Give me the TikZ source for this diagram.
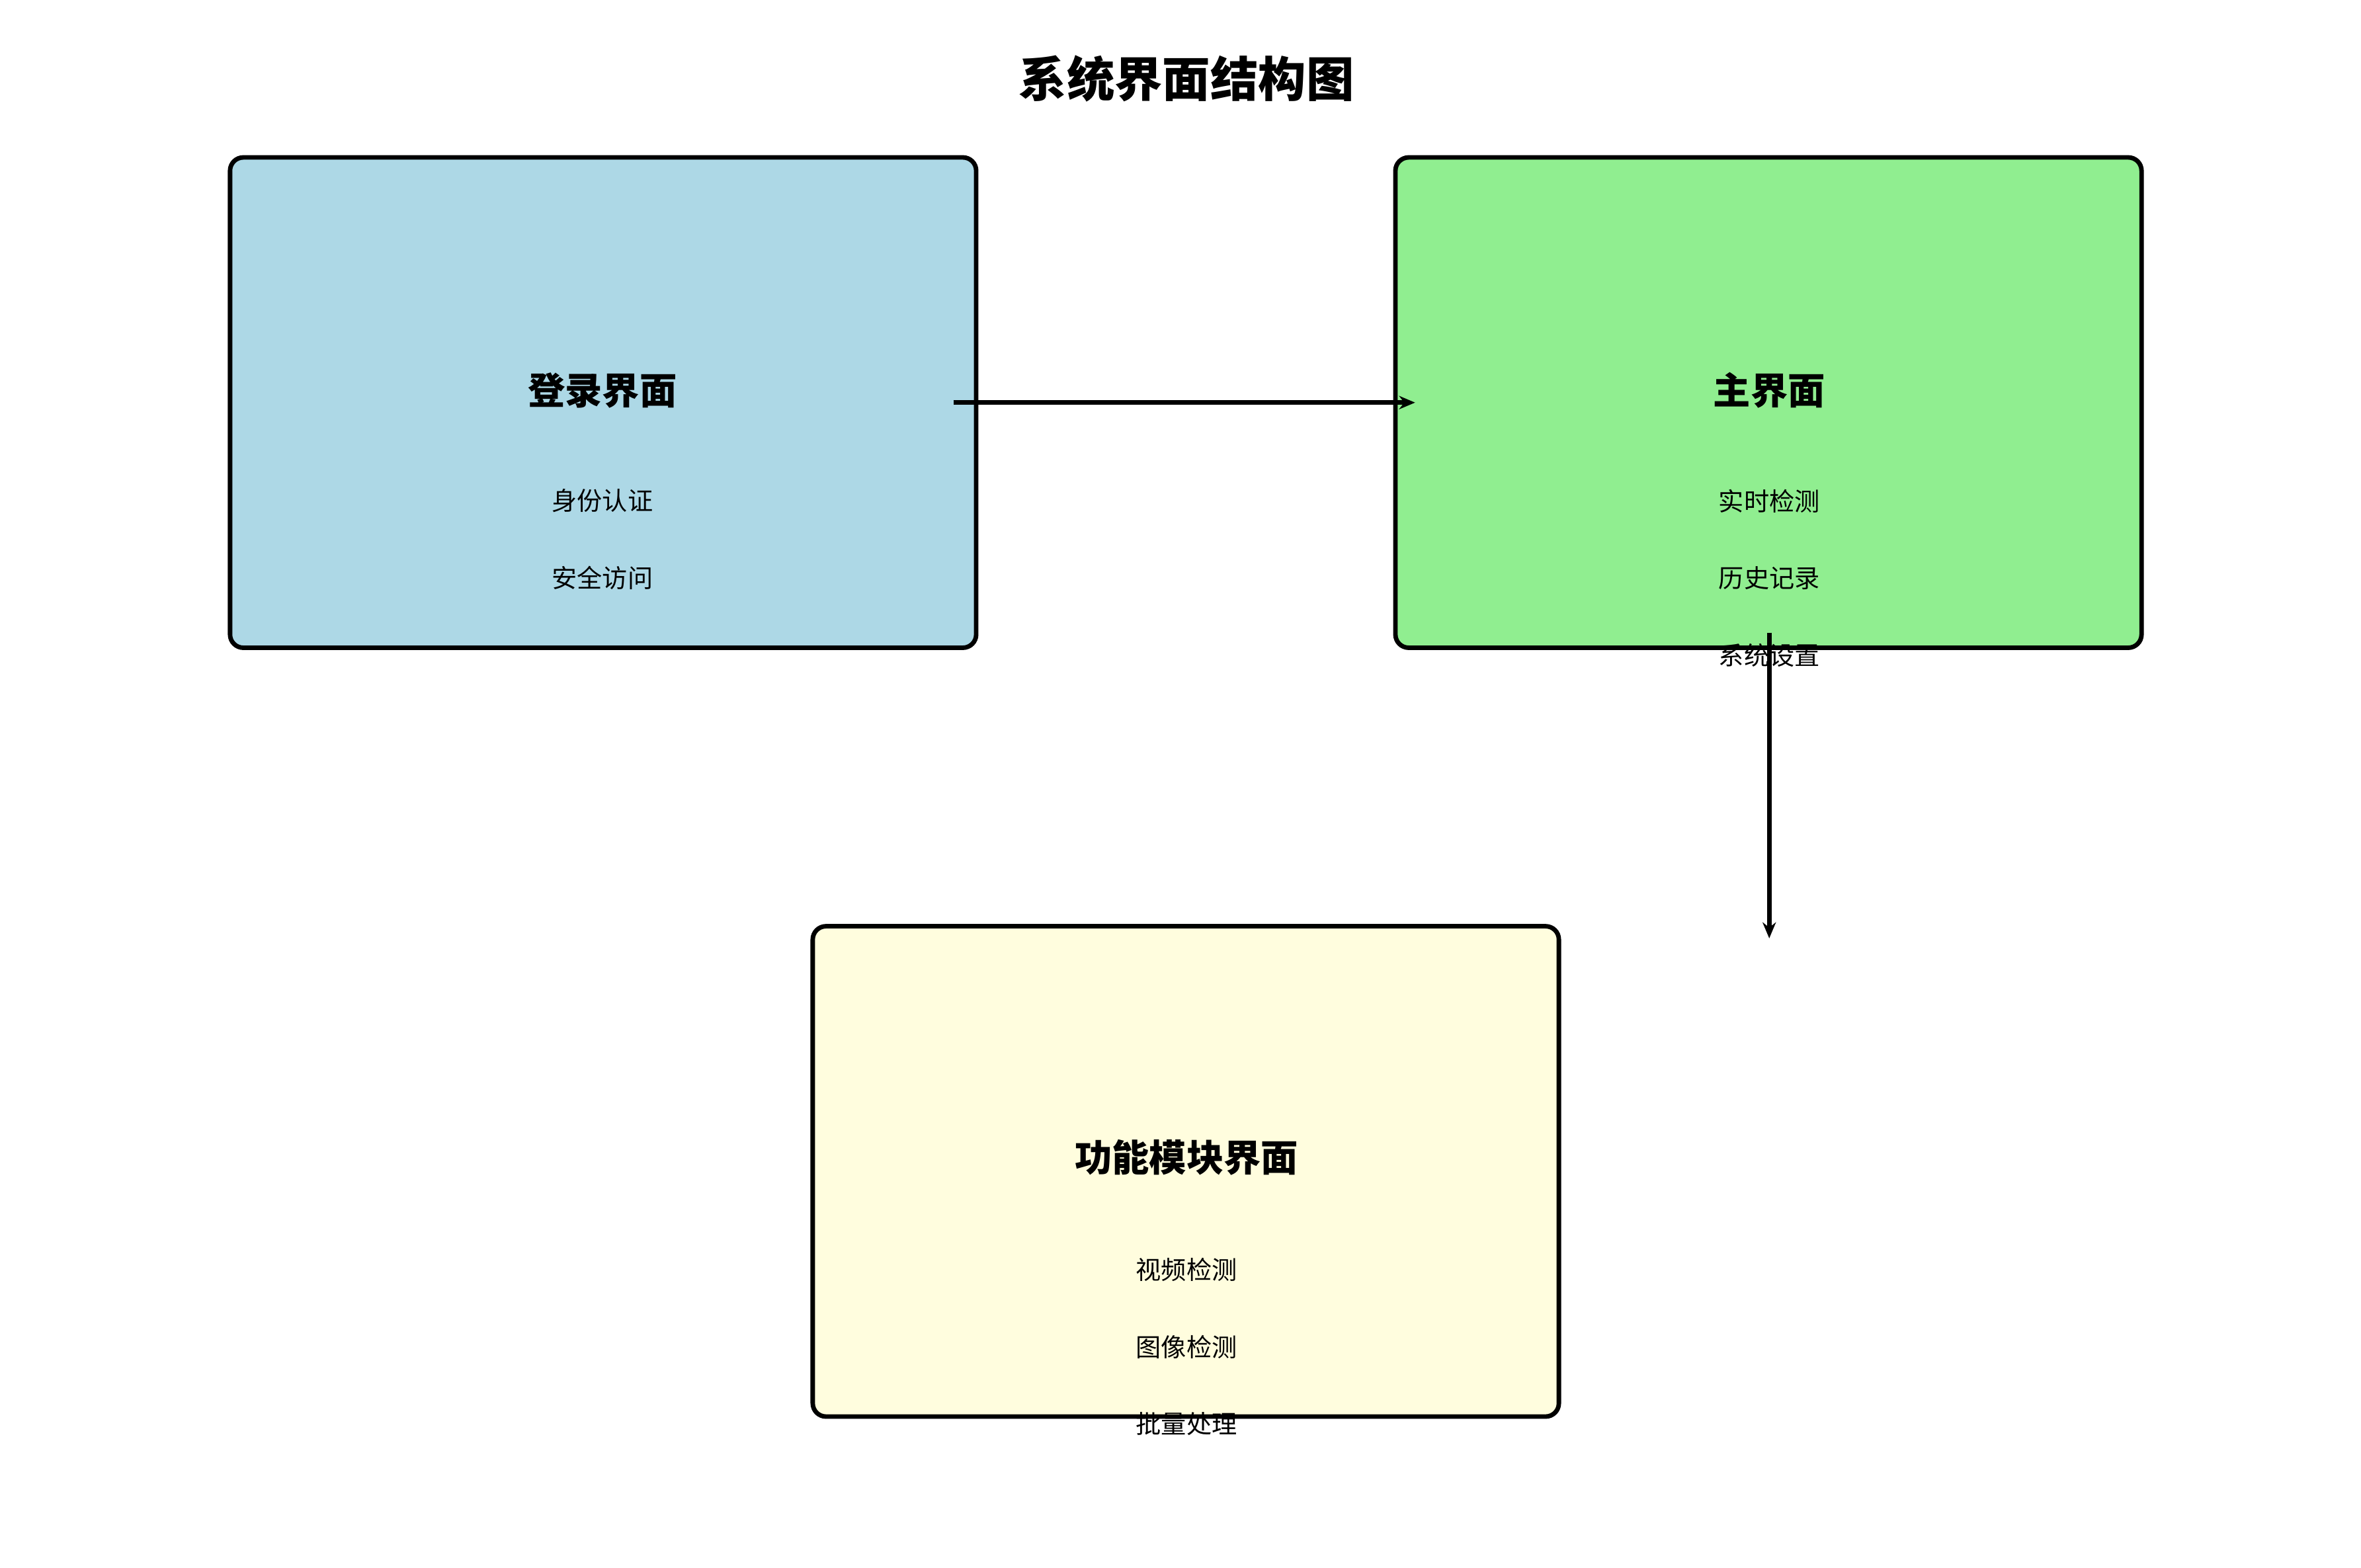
\documentclass[tikz,border=0pt]{standalone}
\usepackage{fontspec}
\setmainfont{Noto Sans CJK SC}
\usetikzlibrary{arrows.meta}
\begin{document}
\begin{tikzpicture}[x=0.02cm,y=-0.02cm,
  box/.style={draw=black,line width=1.7pt,rounded corners=5pt},
  ttl/.style={font=\fontsize{14}{16}\selectfont\bfseries},
  itm/.style={font=\fontsize{9.5}{11}\selectfont},
  conn/.style={line width=1.7pt,-{Stealth[length=6pt,width=5pt]}}]
\useasboundingbox (0,0) rectangle (1560,1036);
\node[font=\fontsize{18}{20}\selectfont\bfseries] (title) at (784,52) {系统界面结构图};
\draw[box,fill={rgb,255:red,173;green,216;blue,230}] (152,104) rectangle (645,428);
\draw[box,fill={rgb,255:red,144;green,238;blue,144}] (922,104) rectangle (1415,428);
\draw[box,fill={rgb,255:red,255;green,253;blue,222}] (537,612) rectangle (1030,936);
\node[ttl] (l) at (398,258) {登录界面};
\node[itm] (l1) at (398,331) {身份认证};
\node[itm] (l2) at (398,382) {安全访问};
\node[ttl] (m) at (1169,258) {主界面};
\node[itm] (m1) at (1169,331) {实时检测};
\node[itm] (m2) at (1169,382) {历史记录};
\node[itm] (m3) at (1169,433) {系统设置};
\node[ttl] (f) at (784,765) {功能模块界面};
\node[itm] (f1) at (784,839) {视频检测};
\node[itm] (f2) at (784,890) {图像检测};
\node[itm] (f3) at (784,941) {批量处理};
\coordinate (a1) at (630,266);
\coordinate (a2) at (935,266);
\coordinate (b1) at (1169,418);
\coordinate (b2) at (1169,620);
\draw[conn] (a1) -- (a2);
\draw[conn] (b1) -- (b2);
\end{tikzpicture}
\end{document}
